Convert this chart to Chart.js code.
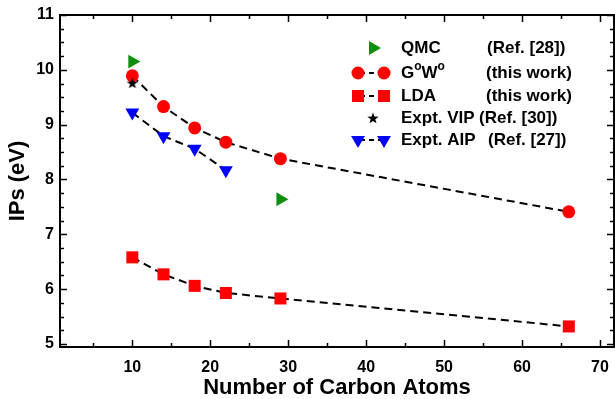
<!DOCTYPE html>
<html lang="en">
<head>
<meta charset="UTF-8">
<title>IPs vs Number of Carbon Atoms</title>
<script src="https://cdn.jsdelivr.net/npm/chart.js"></script>
<style>
    body { margin: 0; background: #fff; }
</style>
</head>
<body>
<canvas id="grafico" width="615" height="399"></canvas>
<script>
    // dados
    var qmcX = [10, 29];
    var qmcIP = [10.15, 7.64];

    var gwX = [10, 14, 18, 22, 29, 66];
    var gwIP = [9.89, 9.33, 8.94, 8.68, 8.38, 7.41];

    var ldaX = [10, 14, 18, 22, 29, 66];
    var ldaIP = [6.58, 6.27, 6.06, 5.93, 5.83, 5.32];

    var vipX = [10];
    var vipIP = [9.76];

    var aipX = [10, 14, 18, 22];
    var aipIP = [9.22, 8.79, 8.56, 8.17];

    var xTicks = [10, 20, 30, 40, 50, 60, 70];
    var yTicks = [5, 6, 7, 8, 9, 10, 11];

    var FONTE = '"Liberation Sans", Arial, sans-serif';
    var VERDE = '#0f8f0f';
    var VERMELHO = '#ff0000';
    var AZUL = '#0000ff';

    function pares(xs, ys) {
        return xs.map(function (x, i) { return { x: x, y: ys[i] }; });
    }

    // estrela de 5 pontas
    function criaEstrela(r) {
        var c = document.createElement('canvas');
        c.width = Math.ceil(r * 2 + 2);
        c.height = Math.ceil(r * 2 + 2);
        var g = c.getContext('2d');
        var cx = c.width / 2, cy = c.height / 2 + 0.5;
        g.beginPath();
        for (var k = 0; k < 10; k++) {
            var rr = k % 2 === 0 ? r : r * 0.4;
            var a = -Math.PI / 2 + k * Math.PI / 5;
            g.lineTo(cx + rr * Math.cos(a), cy + rr * Math.sin(a));
        }
        g.closePath();
        g.fillStyle = '#000';
        g.fill();
        return c;
    }
    var estrela = criaEstrela(6);

    var tracejado = [8, 5];

    // moldura e marcas para dentro
    var molduraPlugin = {
        id: 'moldura',
        afterDraw: function (chart) {
            var ctx = chart.ctx;
            var a = chart.chartArea;
            var sx = chart.scales.x, sy = chart.scales.y;
            ctx.save();
            ctx.strokeStyle = '#000';
            ctx.lineWidth = 2;
            ctx.strokeRect(a.left, a.top, a.right - a.left, a.bottom - a.top);
            ctx.beginPath();
            for (var v = 5; v <= 70; v += 5) {
                var px = Math.round(sx.getPixelForValue(v)) + 0.5;
                var len = v % 10 === 0 ? 7 : 4;
                ctx.moveTo(px, a.bottom); ctx.lineTo(px, a.bottom - len);
                ctx.moveTo(px, a.top); ctx.lineTo(px, a.top + len);
            }
            for (var w = 5; w <= 11.001; w += 0.25) {
                var py = Math.round(sy.getPixelForValue(w)) + 0.5;
                var l2 = Math.abs(w - Math.round(w)) < 0.01 ? 7 : 4;
                ctx.moveTo(a.left, py); ctx.lineTo(a.left + l2, py);
                ctx.moveTo(a.right, py); ctx.lineTo(a.right - l2, py);
            }
            ctx.lineWidth = 1.5;
            ctx.stroke();
            ctx.restore();
        }
    };

    // legenda desenhada à mão
    var legendaPlugin = {
        id: 'legendaManual',
        afterDraw: function (chart) {
            var ctx = chart.ctx;
            var dp = Chart.helpers.drawPoint;
            var linhas = [
                { y: 48, estilo: 'triangle', rot: 90, r: 8, cor: VERDE, par: false, nome: 'QMC', ref: '(Ref. [28])', refX: 487 },
                { y: 73, estilo: 'circle', rot: 0, r: 6.5, cor: VERMELHO, par: true, nome: 'GW', ref: '(this work)', refX: 486 },
                { y: 96, estilo: 'rect', rot: 0, r: 8.5, cor: VERMELHO, par: true, nome: 'LDA', ref: '(this work)', refX: 486 },
                { y: 118, estilo: estrela, rot: 0, r: 6, cor: '#000', par: false, nome: 'Expt. VIP', ref: '(Ref. [30])', refX: 479 },
                { y: 140, estilo: 'triangle', rot: 180, r: 8, cor: AZUL, par: true, nome: 'Expt. AIP', ref: '(Ref. [27])', refX: 488 }
            ];
            ctx.save();
            linhas.forEach(function (L) {
                if (L.par) {
                    ctx.beginPath();
                    ctx.setLineDash([5, 4]);
                    ctx.lineDashOffset = -2;
                    ctx.strokeStyle = '#000';
                    ctx.lineWidth = 2;
                    ctx.moveTo(358, L.y); ctx.lineTo(384, L.y);
                    ctx.stroke();
                    ctx.setLineDash([]);
                    ctx.fillStyle = L.cor;
                    dp(ctx, { pointStyle: L.estilo, radius: L.r, rotation: L.rot, borderWidth: 0 }, 358, L.y);
                    ctx.fillStyle = L.cor;
                    dp(ctx, { pointStyle: L.estilo, radius: L.r, rotation: L.rot, borderWidth: 0 }, 384, L.y);
                } else {
                    ctx.fillStyle = L.cor;
                    dp(ctx, { pointStyle: L.estilo, radius: L.r, rotation: L.rot, borderWidth: 0 }, 373, L.y);
                }
                ctx.fillStyle = '#000';
                ctx.textBaseline = 'middle';
                ctx.textAlign = 'left';
                ctx.font = 'bold 17px ' + FONTE;
                if (L.nome === 'GW') {
                    var x = 401;
                    ctx.fillText('G', x, L.y); x += ctx.measureText('G').width;
                    ctx.font = 'bold 12px ' + FONTE;
                    ctx.fillText('o', x, L.y - 6); x += ctx.measureText('o').width;
                    ctx.font = 'bold 17px ' + FONTE;
                    ctx.fillText('W', x, L.y); x += ctx.measureText('W').width;
                    ctx.font = 'bold 12px ' + FONTE;
                    ctx.fillText('o', x, L.y - 6);
                    ctx.font = 'bold 17px ' + FONTE;
                } else {
                    ctx.fillText(L.nome, 401, L.y);
                }
                ctx.fillText(L.ref, L.refX, L.y);
            });
            ctx.restore();
        }
    };

    var ctx = document.getElementById('grafico').getContext('2d');
    var myChart = new Chart(ctx, {
        type: 'scatter',
        data: {
            datasets: [
                {
                    label: 'Expt. VIP',
                    data: pares(vipX, vipIP),
                    showLine: false,
                    pointStyle: estrela,
                    pointRadius: 6
                },
                {
                    label: 'QMC',
                    data: pares(qmcX, qmcIP),
                    showLine: false,
                    pointStyle: 'triangle',
                    pointRotation: 90,
                    pointRadius: 8,
                    pointBackgroundColor: VERDE,
                    pointBorderWidth: 0
                },
                {
                    label: 'GoWo',
                    data: pares(gwX, gwIP),
                    showLine: true,
                    borderColor: '#000',
                    borderWidth: 2,
                    borderDash: tracejado,
                    pointStyle: 'circle',
                    pointRadius: 6.5,
                    pointBackgroundColor: VERMELHO,
                    pointBorderWidth: 0
                },
                {
                    label: 'Expt. AIP',
                    data: pares(aipX, aipIP),
                    showLine: true,
                    borderColor: '#000',
                    borderWidth: 2,
                    borderDash: tracejado,
                    pointStyle: 'triangle',
                    pointRotation: 180,
                    pointRadius: 8,
                    pointBackgroundColor: AZUL,
                    pointBorderWidth: 0
                },
                {
                    label: 'LDA',
                    data: pares(ldaX, ldaIP),
                    showLine: true,
                    borderColor: '#000',
                    borderWidth: 2,
                    borderDash: tracejado,
                    pointStyle: 'rect',
                    pointRadius: 8.5,
                    pointBackgroundColor: VERMELHO,
                    pointBorderWidth: 0
                }
            ]
        },
        options: {
            responsive: false,
            animation: false,
            events: [],
            layout: { autoPadding: false, padding: { left: 0, right: 1, top: 15, bottom: 0 } },
            plugins: {
                legend: { display: false },
                tooltip: { enabled: false }
            },
            scales: {
                x: {
                    type: 'linear',
                    min: 0.72,
                    max: 71.8,
                    afterBuildTicks: function (s) { s.ticks = xTicks.map(function (v) { return { value: v }; }); },
                    afterFit: function (s) { s.height = 52; s.paddingLeft = 0; s.paddingRight = 0; },
                    grid: { display: false, drawTicks: true, tickLength: 11 },
                    border: { display: false },
                    ticks: {
                        padding: 0,
                        color: '#000',
                        font: { family: FONTE, size: 16, weight: 'bold' }
                    },
                    title: {
                        display: true,
                        text: 'Number of Carbon Atoms',
                        color: '#000',
                        padding: { top: 0, bottom: -2 },
                        font: { family: FONTE, size: 22, weight: 'bold' }
                    }
                },
                y: {
                    type: 'linear',
                    min: 4.945,
                    max: 11,
                    afterBuildTicks: function (s) { s.ticks = yTicks.map(function (v) { return { value: v }; }); },
                    afterFit: function (s) { s.width = 60; s.paddingTop = 0; s.paddingBottom = 0; },
                    grid: { display: false, drawTicks: true, tickLength: 6 },
                    border: { display: false },
                    ticks: {
                        padding: 0,
                        color: '#000',
                        font: { family: FONTE, size: 16, weight: 'bold' }
                    },
                    title: {
                        display: true,
                        text: 'IPs (eV)',
                        color: '#000',
                        padding: { top: 5, bottom: 0 },
                        font: { family: FONTE, size: 22, weight: 'bold' }
                    }
                }
            }
        },
        plugins: [molduraPlugin, legendaPlugin]
    });
</script>
</body>
</html>
